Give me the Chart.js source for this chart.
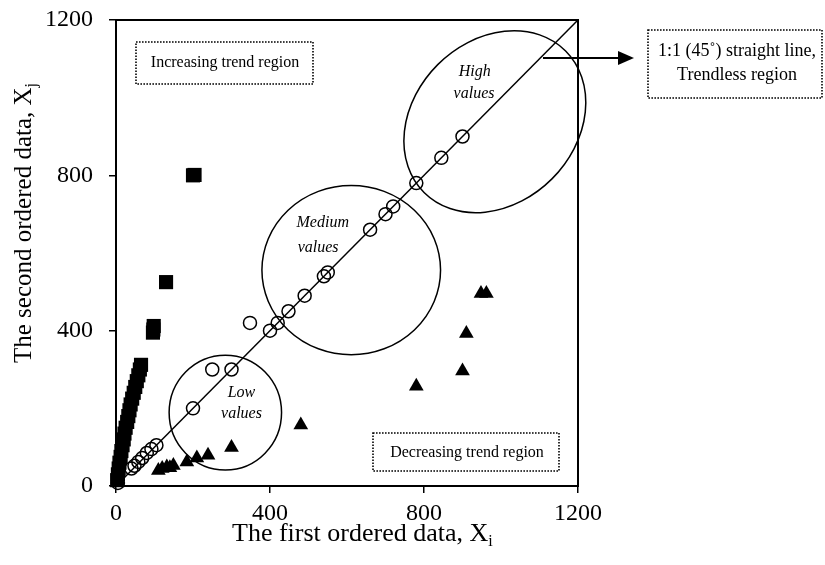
<!DOCTYPE html>
<html>
<head>
<meta charset="utf-8">
<script src="https://cdn.jsdelivr.net/npm/chart.js@4.4.0/dist/chart.umd.min.js"></script>
<style>
  html, body { margin: 0; padding: 0; background: #fff; }
</style>
</head>
<body>
<canvas id="myChart" width="825" height="565"></canvas>
<script>
// values
let tickValues = [0, 400, 800, 1200];

// increasing trend (filled squares)
let squareX = [3, 5, 7, 9, 12, 14, 17, 20, 22, 25, 29, 32, 35, 38, 42, 46, 50, 54, 58, 62, 65, 96, 97, 98, 130, 200, 204];
let squareY = [15, 30, 45, 60, 75, 90, 105, 120, 135, 150, 165, 180, 195, 210, 225, 240, 255, 270, 285, 300, 312, 395, 403, 412, 525, 800, 801];

// trendless (open circles)
let circleX = [5, 40, 48, 58, 68, 80, 92, 105, 200, 250, 300, 348, 400, 420, 448, 490, 540, 550, 660, 700, 720, 780, 845, 900];
let circleY = [8, 45, 52, 62, 72, 85, 95, 105, 200, 300, 300, 420, 400, 420, 450, 490, 540, 550, 660, 700, 720, 780, 845, 900];

// decreasing trend (filled triangles)
let triangleX = [110, 120, 132, 140, 149, 184, 210, 239, 300, 480, 780, 900, 910, 948, 962];
let triangleY = [40, 45, 49, 47, 53, 62, 72, 79, 99, 157, 257, 296, 393, 496, 496];

// 1:1 line
let lineX = [0, 1200];
let lineY = [0, 1200];

// region ellipses, data units: centre, semi-axes, rotation (deg)
let ellipseCx = [284, 611, 984];
let ellipseCy = [189, 556, 938];
let ellipseA = [146, 232, 260];
let ellipseB = [148, 218, 208];
let ellipseRot = [0, 0, -45];

function pts(xs, ys) {
  return xs.map((x, i) => ({ x: x, y: ys[i] }));
}

const serif = "'Liberation Serif', 'Times New Roman', serif";

const annotations = {
  id: 'annotations',
  afterDatasetsDraw(chart) {
    const ctx = chart.ctx;
    const xs = chart.scales.x, ys = chart.scales.y;
    const a = chart.chartArea;
    ctx.save();
    ctx.strokeStyle = '#000';
    ctx.fillStyle = '#000';

    // box round the plot
    ctx.lineWidth = 2;
    ctx.strokeRect(a.left, a.top, a.right - a.left, a.bottom - a.top);

    // ellipses
    ctx.lineWidth = 1.5;
    const kx = (xs.right - xs.left) / 1200;
    const ky = (ys.bottom - ys.top) / 1200;
    for (let i = 0; i < ellipseCx.length; i++) {
      ctx.beginPath();
      ctx.ellipse(xs.getPixelForValue(ellipseCx[i]), ys.getPixelForValue(ellipseCy[i]),
        ellipseA[i] * kx, ellipseB[i] * ky, ellipseRot[i] * Math.PI / 180, 0, Math.PI * 2);
      ctx.stroke();
    }

    // italic labels inside the ellipses
    ctx.font = 'italic 16px ' + serif;
    ctx.textAlign = 'center';
    ctx.textBaseline = 'middle';
    const lab = (t, x, y) => ctx.fillText(t, xs.getPixelForValue(x), ys.getPixelForValue(y));
    lab('High', 932, 1067); lab('values', 930, 1011);
    lab('Medium', 537, 678); lab('values', 525, 614);
    lab('Low', 326, 239); lab('values', 326, 187);

    // dotted boxes
    ctx.lineWidth = 1.6;
    ctx.setLineDash([1.6, 1.4]);
    ctx.strokeRect(136, 42, 177, 42);
    ctx.strokeRect(373, 433, 186, 38);
    ctx.strokeRect(648, 30, 174, 68);
    ctx.setLineDash([]);
    ctx.font = '16px ' + serif;
    ctx.fillText('Increasing trend region', 225, 63);
    ctx.fillText('Decreasing trend region', 467, 453);
    ctx.font = '18px ' + serif;
    ctx.fillText('1:1 (45\u02DA) straight line,', 737, 51);
    ctx.fillText('Trendless region', 737, 75);

    // arrow
    ctx.lineWidth = 2;
    ctx.beginPath();
    ctx.moveTo(543, 58);
    ctx.lineTo(620, 58);
    ctx.stroke();
    ctx.beginPath();
    ctx.moveTo(634, 58);
    ctx.lineTo(618, 51);
    ctx.lineTo(618, 65);
    ctx.closePath();
    ctx.fill();

    // axis titles with subscripts
    ctx.textAlign = 'left';
    ctx.textBaseline = 'alphabetic';
    ctx.font = '26px ' + serif;
    let t = 'The first ordered data, X';
    ctx.fillText(t, 232, 541);
    let w = ctx.measureText(t).width;
    ctx.font = '16px ' + serif;
    ctx.fillText('i', 232 + w, 546);

    ctx.translate(31, 363);
    ctx.rotate(-Math.PI / 2);
    ctx.font = '25px ' + serif;
    t = 'The second ordered data, X';
    ctx.fillText(t, 0, 0);
    w = ctx.measureText(t).width;
    ctx.font = '16px ' + serif;
    ctx.fillText('j', w, 5);
    ctx.restore();
  }
};

const axisCommon = {
  type: 'linear',
  min: 0,
  max: 1200,
  afterBuildTicks: s => { s.ticks = tickValues.map(v => ({ value: v })); },
  grid: { drawOnChartArea: false, drawTicks: true, tickLength: 7, color: '#000', lineWidth: 1.5 },
  border: { display: true, color: '#000', width: 2 }
};

let ctx = document.getElementById('myChart').getContext('2d');
let chart = new Chart(ctx, {
  type: 'scatter',
  data: {
    datasets: [
      {
        label: '1:1 line',
        data: pts(lineX, lineY),
        showLine: true,
        borderColor: '#000',
        borderWidth: 1.5,
        pointRadius: 0,
        fill: false
      },
      {
        label: 'Increasing',
        data: pts(squareX, squareY),
        pointStyle: 'rect',
        pointRadius: 10,
        backgroundColor: '#000',
        borderColor: '#000',
        borderWidth: 0,
        clip: false
      },
      {
        label: 'Trendless',
        data: pts(circleX, circleY),
        pointStyle: 'circle',
        pointRadius: 6.5,
        backgroundColor: 'rgba(0,0,0,0)',
        borderColor: '#000',
        borderWidth: 1.5,
        clip: false
      },
      {
        label: 'Decreasing',
        data: pts(triangleX, triangleY),
        pointStyle: 'triangle',
        pointRadius: 8.5,
        backgroundColor: '#000',
        borderColor: '#000',
        borderWidth: 0,
        clip: false
      }
    ]
  },
  options: {
    responsive: false,
    animation: false,
    layout: { padding: { left: 0, top: 20, right: 247, bottom: 0 } },
    plugins: {
      legend: { display: false },
      tooltip: { enabled: false }
    },
    scales: {
      x: Object.assign({}, axisCommon, {
        afterFit: s => { s.height = 79; s.paddingLeft = 0; s.paddingRight = 0; },
        ticks: { color: '#000', font: { family: serif, size: 24 }, padding: 6, maxRotation: 0, callback: v => String(v) }
      }),
      y: Object.assign({}, axisCommon, {
        afterFit: s => { s.width = 116; s.paddingTop = 0; s.paddingBottom = 0; },
        ticks: { color: '#000', font: { family: serif, size: 24 }, padding: 16, callback: v => String(v) }
      })
    }
  },
  plugins: [annotations]
});
</script>
</body>
</html>
